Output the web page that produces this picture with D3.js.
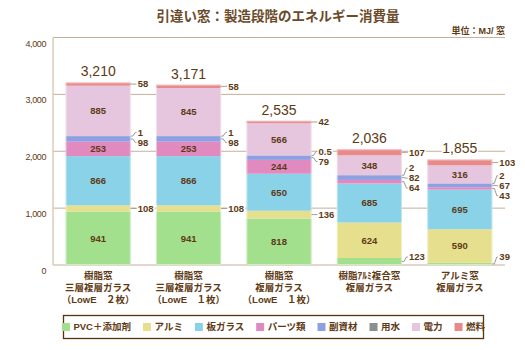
<!DOCTYPE html>
<html>
<head>
<meta charset="utf-8">
<script src="https://cdn.jsdelivr.net/npm/d3@7"></script>
<style>
  html, body { margin: 0; padding: 0; background: #fff; }
  svg { display: block; font-family: "Liberation Sans", Arial, "Noto Sans CJK JP", sans-serif; }
</style>
</head>
<body>
<div id="chart"></div>
<script>
// データ（単位：MJ/窓）
const catLines = [
  ["樹脂窓", "三層複層ガラス", "（LowE　２枚）"],
  ["樹脂窓", "三層複層ガラス", "（LowE　１枚）"],
  ["樹脂窓", "複層ガラス", "（LowE　１枚）"],
  ["樹脂ｱﾙﾐ複合窓", "複層ガラス"],
  ["アルミ窓", "複層ガラス"]
];
const seriesNames = ["PVC＋添加剤", "アルミ", "板ガラス", "パーツ類", "副資材", "用水", "電力", "燃料"];
const pvc    = [941, 941, 818, 123, 39];
const alumi  = [108, 108, 136, 624, 590];
const glass  = [866, 866, 650, 685, 695];
const parts  = [253, 253, 244, 64, 43];
const subMat = [98, 98, 79, 82, 67];
const water  = [1, 1, 0.5, 2, 2];
const power  = [885, 845, 566, 348, 316];
const fuel   = [58, 58, 42, 107, 103];
const totals = [3210, 3171, 2535, 2036, 1855];
const yTicks = [0, 1000, 2000, 3000, 4000];

const colors = ["#a2e08e", "#e6e08e", "#8ad2e8", "#e08ac0", "#8fa0e2", "#8a9090", "#e6c6de", "#e88a8a"];
const cText = "#5e3a14";

const W = 525, H = 350;
const svg = d3.select("#chart").append("svg").attr("width", W).attr("height", H);

const x0 = 53, x1 = 505, yBottom = 265, yTop = 37.5;

const x = d3.scaleBand().domain(d3.range(catLines.length)).range([x0, x1])
  .paddingInner(0.28).paddingOuter(0.14);
const y = d3.scaleLinear().domain([0, 4000]).range([yBottom, yTop]);

// テーブル
const cols = [pvc, alumi, glass, parts, subMat, water, power, fuel];
const table = catLines.map((c, i) => {
  const row = { i };
  seriesNames.forEach((s, k) => row[s] = cols[k][i]);
  return row;
});
const stacked = d3.stack().keys(seriesNames)(table);

// タイトル
svg.append("text")
  .attr("x", 278).attr("y", 21)
  .attr("text-anchor", "middle")
  .style("font-size", "13.5px").style("font-weight", "bold")
  .style("fill", "#6b4a2a")
  .text("引違い窓：製造段階のエネルギー消費量");

svg.append("text")
  .attr("x", x1).attr("y", 34)
  .attr("text-anchor", "end")
  .style("font-size", "9px").style("font-weight", "bold")
  .style("fill", cText)
  .text("単位：MJ/ 窓");

// グリッド
svg.append("g").selectAll("line")
  .data(yTicks)
  .join("line")
  .attr("x1", x0).attr("x2", x1)
  .attr("y1", d => y(d)).attr("y2", d => y(d))
  .attr("stroke", "#c6b096").attr("stroke-width", 1);

svg.append("line")
  .attr("x1", x0).attr("x2", x0)
  .attr("y1", y(4000)).attr("y2", y(0))
  .attr("stroke", "#ddcdbb").attr("stroke-width", 1.5);

svg.append("g").selectAll("text")
  .data(yTicks)
  .join("text")
  .attr("x", 46).attr("y", d => y(d) + 9)
  .attr("text-anchor", "end")
  .style("font-size", "9px")
  .style("letter-spacing", "-0.4px")
  .style("fill", cText)
  .text(d3.format(","));

// 積み上げ棒
const layers = svg.append("g").selectAll("g")
  .data(stacked)
  .join("g")
  .attr("fill", (d, k) => colors[k]);

layers.selectAll("rect")
  .data(d => d)
  .join("rect")
  .attr("x", d => x(d.data.i))
  .attr("width", x.bandwidth())
  .attr("y", d => y(d[1]))
  .attr("height", d => Math.max(0, y(d[0]) - y(d[1])));

// 棒の縁（明るい線）
svg.append("g").selectAll("rect")
  .data(table)
  .join("rect")
  .attr("x", d => x(d.i) + 0.5)
  .attr("width", x.bandwidth() - 1)
  .attr("y", (d, i) => y(d3.sum(cols, c => c[i])) + 0.5)
  .attr("height", (d, i) => y(0) - y(d3.sum(cols, c => c[i])) - 1)
  .attr("fill", "none")
  .attr("stroke", "#fff").attr("stroke-opacity", 0.45);

// 内側ラベル
const inside = [];
const outside = catLines.map(() => []);
stacked.forEach((layer, k) => {
  layer.forEach(d => {
    const v = d[1] - d[0];
    const yc = y((d[0] + d[1]) / 2);
    if (v >= 200) inside.push({ i: d.data.i, v, yc });
    else outside[d.data.i].push({ i: d.data.i, v, yc, ly: yc });
  });
});

svg.append("g").selectAll("text")
  .data(inside)
  .join("text")
  .attr("x", d => x(d.i) + x.bandwidth() / 2)
  .attr("y", d => d.yc)
  .attr("dy", "0.35em")
  .attr("text-anchor", "middle")
  .style("font-size", "9.5px").style("font-weight", "bold")
  .style("fill", cText)
  .text(d => d.v);

// 外側ラベル（重なり回避）
const gap = 10, yMax = 257;
outside.forEach(list => {
  list.sort((a, b) => a.yc - b.yc);
  for (let it = 0; it < 80; it++) {
    for (let j = 1; j < list.length; j++) {
      const over = gap - (list[j].ly - list[j - 1].ly);
      if (over > 0) { list[j - 1].ly -= over / 2; list[j].ly += over / 2; }
    }
    list.forEach(d => { if (d.ly > yMax) d.ly = yMax; });
  }
});
const outList = outside.flat();
const gOut = svg.append("g");

gOut.selectAll("path")
  .data(outList)
  .join("path")
  .attr("d", d => {
    const bx = x(d.i) + x.bandwidth();
    return `M${bx},${d.yc}L${bx + 2},${d.yc}L${bx + 4.5},${d.ly}L${bx + 6},${d.ly}`;
  })
  .attr("fill", "none")
  .attr("stroke", "#9a9a9a").attr("stroke-width", 1);

gOut.selectAll("text")
  .data(outList)
  .join("text")
  .attr("x", d => x(d.i) + x.bandwidth() + 7)
  .attr("y", d => d.ly)
  .attr("dy", "0.35em")
  .style("font-size", "9.5px").style("font-weight", "bold")
  .style("fill", cText)
  .style("paint-order", "stroke")
  .attr("stroke", "#fff").attr("stroke-width", 3)
  .text(d => d.v);

// 合計
svg.append("g").selectAll("text")
  .data(totals)
  .join("text")
  .attr("x", (d, i) => x(i) + x.bandwidth() / 2)
  .attr("y", (d, i) => y(d) - 6)
  .attr("text-anchor", "middle")
  .style("font-size", "14px")
  .style("fill", cText)
  .style("paint-order", "stroke")
  .attr("stroke", "#fff").attr("stroke-width", 3)
  .text(d3.format(","));

// カテゴリラベル
const gCat = svg.append("g").selectAll("text")
  .data(catLines)
  .join("text")
  .attr("text-anchor", "middle")
  .style("font-size", "9.5px").style("font-weight", "bold")
  .style("fill", cText);

gCat.selectAll("tspan")
  .data((d, i) => d.map((t, j) => ({ t, j, i })))
  .join("tspan")
  .attr("x", d => x(d.i) + x.bandwidth() / 2)
  .attr("y", d => 279 + d.j * 12)
  .text(d => d.t);

// 凡例
const legX = 63.5, legY = 315.5, legW = 420, legH = 23;
svg.append("rect")
  .attr("x", legX).attr("y", legY)
  .attr("width", legW).attr("height", legH)
  .attr("fill", "none")
  .attr("stroke", "#5a3210").attr("stroke-width", 1.3);

const gLeg = svg.append("g");
const items = gLeg.selectAll("g")
  .data(seriesNames)
  .join("g");

items.append("rect")
  .attr("width", 8).attr("height", 8)
  .attr("y", -4)
  .attr("fill", (d, k) => colors[k]);

items.append("text")
  .attr("x", 11.5)
  .attr("dy", "0.35em")
  .style("font-size", "9.5px").style("font-weight", "bold")
  .style("fill", cText)
  .text(d => d);

let cx = 0;
const offs = [];
items.each(function () {
  offs.push(cx);
  cx += 11.5 + this.querySelector("text").getComputedTextLength() + 12;
});
const totalW = cx - 12;
const startX = legX + (legW - totalW) / 2;
items.attr("transform", (d, k) => `translate(${startX + offs[k]},${legY + legH / 2})`);
</script>
</body>
</html>
